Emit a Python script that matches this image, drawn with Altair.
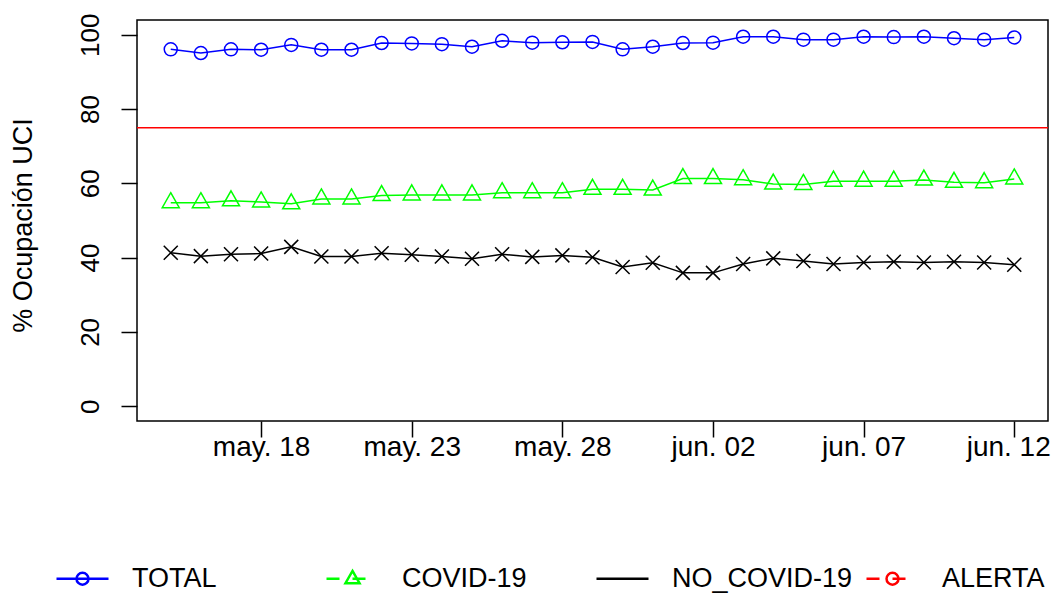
import altair as alt
import pandas as pd

dates = pd.date_range("2020-05-15", "2020-06-12", freq="D").strftime("%Y-%m-%d").tolist()

total = [96.1, 95.1, 96.1, 96.0, 97.3, 96.0, 96.0, 97.8, 97.7, 97.5, 96.8, 98.4, 97.9, 98.0,
         98.1, 96.1, 96.8, 97.8, 97.9, 99.5, 99.5, 98.7, 98.7, 99.5, 99.4, 99.5, 99.1, 98.7, 99.3]
covid = [54.8, 54.8, 55.3, 55.0, 54.5, 55.8, 55.8, 56.7, 56.9, 56.9, 56.9, 57.5, 57.5, 57.5,
         58.4, 58.4, 58.2, 61.3, 61.3, 61.0, 59.8, 59.7, 60.6, 60.6, 60.6, 60.9, 60.3, 60.2, 61.2]
no_covid = [41.3, 40.4, 40.9, 41.1, 42.9, 40.3, 40.3, 41.2, 40.8, 40.3, 39.7, 40.9, 40.2, 40.6,
            40.1, 37.5, 38.6, 35.9, 35.9, 38.3, 39.8, 39.1, 38.3, 38.7, 38.9, 38.7, 38.9, 38.7, 38.1]
alerta = [75]

series_names = ["TOTAL", "COVID-19", "NO_COVID-19", "ALERTA"]
series_colors = ["#0000FF", "#00FF00", "#000000", "#FF0000"]

tick_dates = ["2020-05-18", "2020-05-23", "2020-05-28", "2020-06-02", "2020-06-07", "2020-06-12"]
tick_labels = ["may. 18", "may. 23", "may. 28", "jun. 02", "jun. 07", "jun. 12"]
y_ticks = [0, 20, 40, 60, 80, 100]

FONT = "Liberation Sans"

rows = []
for name, vals in zip(series_names[:3], [total, covid, no_covid]):
    for d, v in zip(dates, vals):
        rows.append({"date": d, "series": name, "value": v})
df = pd.DataFrame(rows)
df_alert = pd.DataFrame({"value": alerta})
df_leg = pd.DataFrame({"leg": series_names})

# point shapes (custom paths scaled by sqrt(size)/2)
circ = "M-0.65,0A0.65,0.65 0 1,0 0.65,0A0.65,0.65 0 1,0 -0.65,0"
tri = "M0,-1L0.85,0.5L-0.85,0.5Z"
xmark = "M-0.7,-0.7L0.7,0.7M-0.7,0.7L0.7,-0.7"

# legend symbols
lc = "M-0.23,0A0.23,0.23 0 1,0 0.23,0A0.23,0.23 0 1,0 -0.23,0"
leg_shapes = [
    "M-1,0L1,0" + lc,
    "M-1,0L-0.5,0M0,0L0.5,0M0,-0.3L0.27,0.17L-0.27,0.17Z",
    "M-1,0L1,0",
    "M-1,0L-0.5,0M0,0L0.5,0" + lc,
]

tick_expr = "[" + ",".join(f"'{l}'" for l in tick_labels) + "][indexof([" + \
    ",".join(f"'{d}'" for d in tick_dates) + "], utcFormat(datum.value, '%Y-%m-%d'))]"

x_scale = alt.Scale(type="utc",
                    domain=[alt.DateTime(year=2020, month=5, date=13, hours=21, minutes=7, utc=True),
                            alt.DateTime(year=2020, month=6, date=13, hours=2, minutes=53, utc=True)])
y_scale = alt.Scale(domain=[-4, 104], nice=False, zero=False)

x_axis = alt.Axis(values=[alt.DateTime(year=int(d[:4]), month=int(d[5:7]), date=int(d[8:]), utc=True)
                          for d in tick_dates],
                  labelExpr=tick_expr, title=None, grid=False, domain=False,
                  tickSize=16, tickColor="black", tickWidth=1.5,
                  labelFont=FONT, labelFontSize=28, labelColor="black",
                  labelPadding=-4, labelBaseline="top", labelFlush=35, labelFlushOffset=36,
                  labelOverlap=False)
y_axis = alt.Axis(values=y_ticks, title="% Ocupación UCI", grid=False, domain=False,
                  tickSize=16, tickColor="black", tickWidth=1.5,
                  labelFont=FONT, labelFontSize=26, labelColor="black",
                  labelAngle=270, labelAlign="center", labelBaseline="bottom", labelPadding=18,
                  titleFont=FONT, titleFontSize=27, titleFontWeight="normal", titleColor="black",
                  titleAngle=270, titleAlign="center", titleBaseline="middle",
                  titleX=-114, titleY=205)

color_main = alt.Color("series:N", scale=alt.Scale(domain=series_names, range=series_colors), legend=None)

lines = alt.Chart(df).mark_line(strokeWidth=1.5, clip=True).encode(
    x=alt.X("date:T", scale=x_scale, axis=x_axis),
    y=alt.Y("value:Q", scale=y_scale, axis=y_axis),
    color=color_main,
    detail="series:N",
)

points = alt.Chart(df).mark_point(filled=False, strokeWidth=1.5, size=400, opacity=1).encode(
    x=alt.X("date:T", scale=x_scale),
    y=alt.Y("value:Q", scale=y_scale),
    color=color_main,
    shape=alt.Shape("series:N", scale=alt.Scale(domain=series_names[:3], range=[circ, tri, xmark]),
                    legend=None),
)

rule = alt.Chart(df_alert).mark_rule(color="#FF0000", strokeWidth=1.5).encode(
    y=alt.Y("value:Q", scale=y_scale),
)

leg = alt.Legend(title=None, orient="none", legendX=-82, legendY=531, direction="horizontal",
                 columns=4, gridAlign="all", columnPadding=8, padding=0,
                 symbolSize=2704, symbolStrokeWidth=2.5, symbolOpacity=1, symbolFillColor="transparent",
                 labelFont=FONT, labelFontSize=27, labelColor="black", labelOffset=22, labelLimit=400)

legend_layer = alt.Chart(df_leg).mark_point(filled=False, opacity=0).encode(
    x=alt.value(0), y=alt.value(0),
    color=alt.Color("leg:N", scale=alt.Scale(domain=series_names, range=series_colors), legend=leg),
    shape=alt.Shape("leg:N", scale=alt.Scale(domain=series_names, range=leg_shapes), legend=leg),
)

chart = alt.layer(lines, points, rule, legend_layer).resolve_scale(
    color="independent", shape="independent"
).properties(
    width=911, height=401,
    autosize=alt.AutoSizeParams(type="none"),
    padding={"left": 129, "top": 12, "right": 7, "bottom": 175},
    background="white",
).configure_view(stroke="black", strokeWidth=1.5)

chart.save("out.html", embed_options={"renderer": "svg", "actions": False})
